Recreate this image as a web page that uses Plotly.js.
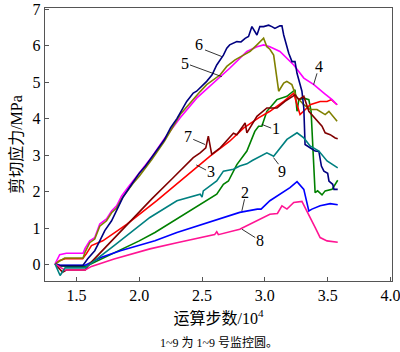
<!DOCTYPE html>
<html><head><meta charset="utf-8">
<script src="https://cdn.plot.ly/plotly-3.0.1.min.js"></script>
<style>html,body{margin:0;padding:0;background:#fff}#chart{width:400px;height:352px}</style>
</head><body><div id="chart"></div>
<script>
// ---- data ----
const seriesNames = ["1","2","3","4","5","6","7","8","9"];
const colors = ["#008000","#0000FF","#FF0000","#FF00FF","#808000","#000080","#800000","#FF1493","#008080"];

const x1 = [1.33,1.37,1.57,1.7,1.85,2.0,2.125,2.25,2.4,2.537,2.617,2.67,2.71,2.777,2.857,2.92,2.95,2.976,3.016,3.096,3.176,3.24,3.256,3.27,3.31,3.35,3.368,3.40,3.42,3.455,3.48,3.535,3.58];
const y1 = [0.02,-0.04,-0.06,0.15,0.4,0.65,0.88,1.15,1.47,1.75,1.93,2.2,2.29,2.74,3.11,3.65,3.79,3.79,4.2,4.52,4.61,4.79,4.2,4.52,4.56,4.52,4.2,1.97,2.02,1.91,2.02,2.06,2.31];

const x2 = [1.33,1.37,1.57,1.7,1.85,2.0,2.125,2.3,2.51,2.65,2.8,2.94,2.97,3.04,3.12,3.2,3.256,3.31,3.35,3.375,3.44,3.52,3.58];
const y2 = [0.02,-0.02,-0.02,0.2,0.38,0.52,0.65,0.88,1.11,1.25,1.43,1.52,1.52,1.75,1.93,2.11,2.27,2.06,1.47,1.52,1.61,1.67,1.64];

const x3 = [1.33,1.367,1.41,1.55,1.58,1.62,1.71,1.9,2.14,2.325,2.457,2.564,2.72,2.83,2.95,3.04,3.15,3.23,3.256,3.28,3.335,3.36,3.44,3.495,3.53,3.575];
const y3 = [0.02,0.11,0.16,0.16,0.3,0.52,0.65,1.1,1.75,2.29,2.65,2.97,3.38,3.74,4.02,4.2,4.47,4.70,4.38,4.11,4.29,4.38,4.47,4.47,4.52,4.38];

const x4 = [1.33,1.367,1.42,1.553,1.57,1.606,1.646,1.686,1.74,1.78,1.82,1.86,1.91,1.95,2.0,2.1,2.2,2.326,2.457,2.59,2.72,2.857,2.937,2.99,3.04,3.12,3.176,3.23,3.31,3.39,3.47,3.535,3.575];
const y4 = [0.02,0.27,0.31,0.31,0.45,0.65,0.74,1.11,1.25,1.47,1.61,1.88,2.11,2.29,2.5,2.95,3.45,4.02,4.56,4.97,5.38,5.84,5.97,6.02,5.97,5.84,5.65,5.47,5.11,4.93,4.70,4.52,4.38];

const x5 = [1.33,1.407,1.553,1.57,1.606,1.646,1.686,1.74,1.78,1.82,1.86,1.91,1.95,2.0,2.1,2.2,2.326,2.485,2.537,2.645,2.697,2.763,2.83,2.883,2.937,2.99,3.016,3.04,3.07,3.11,3.15,3.175,3.215,3.25,3.31,3.36,3.415,3.48,3.51,3.575];
const y5 = [0.02,0.18,0.18,0.35,0.6,0.7,1.05,1.2,1.42,1.55,1.8,2.05,2.22,2.42,2.88,3.38,4.11,4.74,4.93,5.2,5.43,5.61,5.74,5.84,6.02,6.2,5.97,5.9,5.74,4.75,4.97,5.02,4.93,4.6,4.38,4.25,4.25,4.11,4.2,3.93];

const x6 = [1.33,1.37,1.45,1.55,1.59,1.646,1.686,1.726,1.78,1.82,1.87,1.94,2.0,2.05,2.1,2.15,2.2,2.25,2.3,2.378,2.43,2.457,2.537,2.58,2.617,2.67,2.697,2.72,2.75,2.777,2.81,2.843,2.87,2.897,2.937,2.96,2.99,3.03,3.056,3.08,3.12,3.136,3.15,3.19,3.216,3.24,3.256,3.295,3.31,3.32,3.36,3.40,3.43,3.45,3.47,3.50,3.51,3.54,3.55,3.58];
const y6 = [0.02,-0.03,-0.03,-0.03,0.16,0.38,0.65,0.93,1.2,1.47,1.84,2.2,2.5,2.7,2.95,3.2,3.42,3.75,4.0,4.47,4.70,4.75,5.02,5.2,5.47,5.74,5.93,6.02,6.06,6.11,6.1,6.2,6.25,6.52,6.29,6.52,6.52,6.56,6.52,6.47,6.54,6.54,6.29,5.79,5.56,5.56,5.24,4.75,4.29,3.29,3.2,3.11,3.1,2.7,2.56,2.5,2.29,2.2,2.06,2.06];

const x7 = [1.33,1.39,1.42,1.57,1.6,1.8,2.0,2.1,2.27,2.43,2.485,2.53,2.55,2.577,2.645,2.75,2.777,2.843,2.857,2.937,3.016,3.096,3.16,3.24,3.27,3.31,3.35,3.415,3.455,3.48,3.52,3.56,3.58];
const y7 = [0.02,-0.21,-0.15,-0.15,0.0,0.72,1.44,1.8,2.38,2.93,3.06,3.2,3.52,3.02,3.2,3.6,3.56,3.88,3.61,4.06,4.29,4.29,4.47,4.65,4.52,4.61,4.2,3.93,3.79,3.61,3.56,3.47,3.45];

const x8 = [1.33,1.407,1.57,1.62,1.8,2.085,2.3,2.5,2.6,2.617,2.63,2.8,2.96,3.04,3.1,3.136,3.176,3.23,3.295,3.335,3.40,3.44,3.495,3.58];
const y8 = [0.02,-0.15,-0.15,-0.05,0.15,0.43,0.6,0.76,0.82,0.9,0.82,0.97,1.25,1.38,1.4,1.61,1.52,1.70,1.73,1.47,1.02,0.74,0.65,0.61];

const x9 = [1.33,1.37,1.41,1.57,1.8,2.085,2.3,2.485,2.5,2.51,2.58,2.617,2.67,2.75,2.8,2.857,2.9,2.96,3.016,3.07,3.176,3.256,3.31,3.36,3.43,3.495,3.535,3.58];
const y9 = [0.02,-0.30,-0.09,-0.09,0.52,1.29,1.75,1.93,1.85,2.02,2.2,2.29,2.56,2.61,2.7,2.76,2.85,2.97,3.06,2.97,3.43,3.61,3.47,3.25,3.11,2.84,2.74,2.65];

const xs = [x1,x2,x3,x4,x5,x6,x7,x8,x9];
const ys = [y1,y2,y3,y4,y5,y6,y7,y8,y9];

const xTicks = [1.5,2.0,2.5,3.0,3.5,4.0];
const xTickText = ["1.5","2.0","2.5","3.0","3.5","4.0"];
const yTicks = [0,1,2,3,4,5,6,7];
const yTickText = ["0","1","2","3","4","5","6","7"];

// curve labels: text position and leader line [x0,y0,x1,y1]
const labelText = ["1","2","3","4","5","6","7","8","9"];
const labelX = [3.09,2.843,2.573,3.428,2.364,2.477,2.39,2.963,3.136];
const labelY = [3.72,1.97,2.56,5.43,5.52,6.03,3.52,0.65,2.56];
const leaders = [
  [3.05,3.74,2.976,3.84],
  [2.838,1.79,2.817,1.47],
  [2.532,2.59,2.454,2.73],
  [3.415,5.24,3.388,4.93],
  [2.404,5.47,2.657,5.15],
  [2.524,5.88,2.657,5.70],
  [2.43,3.43,2.524,3.29],
  [2.923,0.74,2.817,0.97],
  [3.109,2.75,3.069,2.93]
];

const xTitle = "运算步数/10<sup>4</sup>";
const yTitle = "剪切应力/MPa";
const caption = "1~9 为 1~9 号监控圆。";

// ---- chart ----
const serif = "Liberation Serif, Noto Sans CJK SC";
const traces = xs.map((x,i)=>({
  x:x, y:ys[i], type:"scatter", mode:"lines", name:seriesNames[i],
  line:{color:colors[i], width:1.6}, hoverinfo:"skip"
}));

const annotations = labelText.map((t,i)=>({
  x:labelX[i], y:labelY[i], xref:"x", yref:"y", text:t, showarrow:false,
  font:{family:serif, size:16, color:"#000"}
}));
annotations.push({
  x:0.5, y:-0.226, xref:"paper", yref:"paper", yanchor:"middle", xanchor:"center",
  text:caption, showarrow:false,
  font:{family:serif, size:12, color:"#000"}
});
const shapes = leaders.map(l=>({
  type:"line", xref:"x", yref:"y", x0:l[0], y0:l[1], x1:l[2], y1:l[3],
  line:{color:"#000", width:0.8}
}));

const layout = {
  width:400, height:352,
  margin:{l:45, r:8, t:8, b:71},
  paper_bgcolor:"#fff", plot_bgcolor:"#fff",
  showlegend:false,
  font:{family:serif, size:16, color:"#000"},
  xaxis:{
    range:[1.25,4.012], tickmode:"array", tickvals:xTicks, ticktext:xTickText,
    ticks:"inside", ticklen:4, tickcolor:"#555", ticklabeloverflow:"allow",
    showline:true, mirror:true, linecolor:"#555", linewidth:1.2,
    showgrid:false, zeroline:false,
    tickfont:{family:serif, size:16, color:"#000"},
    title:{text:xTitle, font:{family:serif, size:16, color:"#000"}, standoff:9}
  },
  yaxis:{
    range:[-0.45,7.03], tickmode:"array", tickvals:yTicks, ticktext:yTickText,
    ticks:"inside", ticklen:4, tickcolor:"#555", ticklabeloverflow:"allow",
    showline:true, mirror:true, linecolor:"#555", linewidth:1.2,
    showgrid:false, zeroline:false,
    tickfont:{family:serif, size:16, color:"#000"},
    title:{text:yTitle, font:{family:serif, size:16, color:"#000"}, standoff:6}
  },
  annotations:annotations, shapes:shapes
};
Plotly.newPlot("chart", traces, layout, {displayModeBar:false, staticPlot:true});
</script></body></html>
